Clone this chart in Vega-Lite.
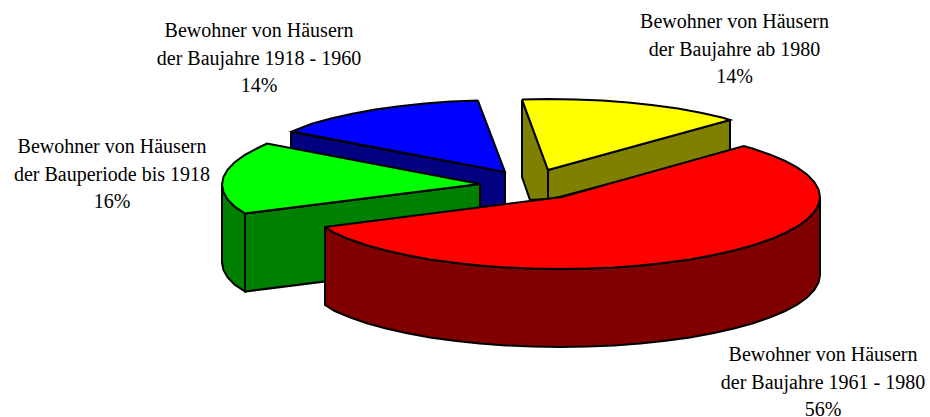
{"$schema":"https://vega.github.io/schema/vega-lite/v6.json","autosize":{"type":"none"},"padding":0,"width":930,"height":417,"background":"white","view":{"stroke":null},"datasets":{"shapes":[
{"p":"a_yellowLeft","i":0,"x":522,"y":100},{"p":"a_yellowLeft","i":1,"x":548,"y":170},{"p":"a_yellowLeft","i":2,"x":548,"y":199},{"p":"a_yellowLeft","i":3,"x":530,"y":200},{"p":"a_yellowLeft","i":4,"x":522,"y":177},{"p":"a_yellowLeft","i":5,"x":522,"y":100},
{"p":"b_yellowRight","i":0,"x":548,"y":170},{"p":"b_yellowRight","i":1,"x":730,"y":120},{"p":"b_yellowRight","i":2,"x":730,"y":152},{"p":"b_yellowRight","i":3,"x":548,"y":200},{"p":"b_yellowRight","i":4,"x":548,"y":170},
{"p":"c_yellowTop","i":0,"x":522,"y":99.5},{"p":"c_yellowTop","i":1,"x":548,"y":99},{"p":"c_yellowTop","i":2,"x":575.2,"y":99.4},{"p":"c_yellowTop","i":3,"x":602.1,"y":100.6},{"p":"c_yellowTop","i":4,"x":628.3,"y":102.5},{"p":"c_yellowTop","i":5,"x":653.7,"y":105.2},{"p":"c_yellowTop","i":6,"x":678,"y":108.6},{"p":"c_yellowTop","i":7,"x":700.8,"y":112.8},{"p":"c_yellowTop","i":8,"x":722,"y":117.5},{"p":"c_yellowTop","i":9,"x":730,"y":120},{"p":"c_yellowTop","i":10,"x":548,"y":170},{"p":"c_yellowTop","i":11,"x":522,"y":99.5},
{"p":"d_blueSide","i":0,"x":291,"y":132},{"p":"d_blueSide","i":1,"x":505,"y":172},{"p":"d_blueSide","i":2,"x":505,"y":206},{"p":"d_blueSide","i":3,"x":480,"y":212},{"p":"d_blueSide","i":4,"x":291,"y":160},{"p":"d_blueSide","i":5,"x":291,"y":132},
{"p":"e_blueTop","i":0,"x":477.8,"y":100.4},{"p":"e_blueTop","i":1,"x":505,"y":172},{"p":"e_blueTop","i":2,"x":292,"y":131.5},{"p":"e_blueTop","i":3,"x":311.8,"y":123.8},{"p":"e_blueTop","i":4,"x":331,"y":118.5},{"p":"e_blueTop","i":5,"x":352.2,"y":113.8},{"p":"e_blueTop","i":6,"x":375,"y":109.6},{"p":"e_blueTop","i":7,"x":399.3,"y":106.2},{"p":"e_blueTop","i":8,"x":424.7,"y":103.5},{"p":"e_blueTop","i":9,"x":450.9,"y":101.6},{"p":"e_blueTop","i":10,"x":477.8,"y":100.4},
{"p":"f_greenOuter","i":0,"x":222,"y":184.5},{"p":"f_greenOuter","i":1,"x":223.4,"y":192},{"p":"f_greenOuter","i":2,"x":227.7,"y":199.5},{"p":"f_greenOuter","i":3,"x":234.7,"y":206.7},{"p":"f_greenOuter","i":4,"x":245,"y":213.5},{"p":"f_greenOuter","i":5,"x":245,"y":291.5},{"p":"f_greenOuter","i":6,"x":234.7,"y":284.7},{"p":"f_greenOuter","i":7,"x":227.7,"y":277.5},{"p":"f_greenOuter","i":8,"x":223.4,"y":270},{"p":"f_greenOuter","i":9,"x":222,"y":262.5},{"p":"f_greenOuter","i":10,"x":222,"y":184.5},
{"p":"g_greenFront","i":0,"x":245,"y":213.5},{"p":"g_greenFront","i":1,"x":480,"y":184},{"p":"g_greenFront","i":2,"x":480,"y":262},{"p":"g_greenFront","i":3,"x":245,"y":291.5},{"p":"g_greenFront","i":4,"x":245,"y":213.5},
{"p":"h_greenTop","i":0,"x":480,"y":184},{"p":"h_greenTop","i":1,"x":267,"y":143.5},{"p":"h_greenTop","i":2,"x":256.8,"y":148.5},{"p":"h_greenTop","i":3,"x":244.5,"y":155.2},{"p":"h_greenTop","i":4,"x":234.7,"y":162.3},{"p":"h_greenTop","i":5,"x":227.7,"y":169.5},{"p":"h_greenTop","i":6,"x":223.4,"y":177},{"p":"h_greenTop","i":7,"x":222,"y":184.5},{"p":"h_greenTop","i":8,"x":223.4,"y":192},{"p":"h_greenTop","i":9,"x":227.7,"y":199.5},{"p":"h_greenTop","i":10,"x":234.7,"y":206.7},{"p":"h_greenTop","i":11,"x":245,"y":213.5},{"p":"h_greenTop","i":12,"x":480,"y":184},
{"p":"i_redSide","i":0,"x":820,"y":197},{"p":"i_redSide","i":1,"x":818.6,"y":204.5},{"p":"i_redSide","i":2,"x":814.3,"y":212},{"p":"i_redSide","i":3,"x":807.3,"y":219.2},{"p":"i_redSide","i":4,"x":797.5,"y":226.3},{"p":"i_redSide","i":5,"x":785.2,"y":233},{"p":"i_redSide","i":6,"x":770.3,"y":239.3},{"p":"i_redSide","i":7,"x":753.2,"y":245.2},{"p":"i_redSide","i":8,"x":734,"y":250.5},{"p":"i_redSide","i":9,"x":712.8,"y":255.2},{"p":"i_redSide","i":10,"x":690,"y":259.4},{"p":"i_redSide","i":11,"x":665.7,"y":262.8},{"p":"i_redSide","i":12,"x":640.3,"y":265.5},{"p":"i_redSide","i":13,"x":614.1,"y":267.4},{"p":"i_redSide","i":14,"x":587.2,"y":268.6},{"p":"i_redSide","i":15,"x":560,"y":269},{"p":"i_redSide","i":16,"x":532.8,"y":268.6},{"p":"i_redSide","i":17,"x":505.9,"y":267.4},{"p":"i_redSide","i":18,"x":479.7,"y":265.5},{"p":"i_redSide","i":19,"x":454.3,"y":262.8},{"p":"i_redSide","i":20,"x":430,"y":259.4},{"p":"i_redSide","i":21,"x":407.2,"y":255.2},{"p":"i_redSide","i":22,"x":386,"y":250.5},{"p":"i_redSide","i":23,"x":366.8,"y":245.2},{"p":"i_redSide","i":24,"x":349.7,"y":239.3},{"p":"i_redSide","i":25,"x":334.8,"y":233},{"p":"i_redSide","i":26,"x":325,"y":227},{"p":"i_redSide","i":27,"x":325,"y":305},{"p":"i_redSide","i":28,"x":334.8,"y":311},{"p":"i_redSide","i":29,"x":349.7,"y":317.3},{"p":"i_redSide","i":30,"x":366.8,"y":323.2},{"p":"i_redSide","i":31,"x":386,"y":328.5},{"p":"i_redSide","i":32,"x":407.2,"y":333.2},{"p":"i_redSide","i":33,"x":430,"y":337.4},{"p":"i_redSide","i":34,"x":454.3,"y":340.8},{"p":"i_redSide","i":35,"x":479.7,"y":343.5},{"p":"i_redSide","i":36,"x":505.9,"y":345.4},{"p":"i_redSide","i":37,"x":532.8,"y":346.6},{"p":"i_redSide","i":38,"x":560,"y":347},{"p":"i_redSide","i":39,"x":587.2,"y":346.6},{"p":"i_redSide","i":40,"x":614.1,"y":345.4},{"p":"i_redSide","i":41,"x":640.3,"y":343.5},{"p":"i_redSide","i":42,"x":665.7,"y":340.8},{"p":"i_redSide","i":43,"x":690,"y":337.4},{"p":"i_redSide","i":44,"x":712.8,"y":333.2},{"p":"i_redSide","i":45,"x":734,"y":328.5},{"p":"i_redSide","i":46,"x":753.2,"y":323.2},{"p":"i_redSide","i":47,"x":770.3,"y":317.3},{"p":"i_redSide","i":48,"x":785.2,"y":311},{"p":"i_redSide","i":49,"x":797.5,"y":304.3},{"p":"i_redSide","i":50,"x":807.3,"y":297.2},{"p":"i_redSide","i":51,"x":814.3,"y":290},{"p":"i_redSide","i":52,"x":818.6,"y":282.5},{"p":"i_redSide","i":53,"x":820,"y":275},{"p":"i_redSide","i":54,"x":820,"y":197},
{"p":"j_redTop","i":0,"x":325,"y":227},{"p":"j_redTop","i":1,"x":562,"y":197},{"p":"j_redTop","i":2,"x":743.8,"y":146.1},{"p":"j_redTop","i":3,"x":753.2,"y":148.8},{"p":"j_redTop","i":4,"x":770.3,"y":154.7},{"p":"j_redTop","i":5,"x":785.2,"y":161},{"p":"j_redTop","i":6,"x":797.5,"y":167.7},{"p":"j_redTop","i":7,"x":807.3,"y":174.8},{"p":"j_redTop","i":8,"x":814.3,"y":182},{"p":"j_redTop","i":9,"x":818.6,"y":189.5},{"p":"j_redTop","i":10,"x":820,"y":197},{"p":"j_redTop","i":11,"x":818.6,"y":204.5},{"p":"j_redTop","i":12,"x":814.3,"y":212},{"p":"j_redTop","i":13,"x":807.3,"y":219.2},{"p":"j_redTop","i":14,"x":797.5,"y":226.3},{"p":"j_redTop","i":15,"x":785.2,"y":233},{"p":"j_redTop","i":16,"x":770.3,"y":239.3},{"p":"j_redTop","i":17,"x":753.2,"y":245.2},{"p":"j_redTop","i":18,"x":734,"y":250.5},{"p":"j_redTop","i":19,"x":712.8,"y":255.2},{"p":"j_redTop","i":20,"x":690,"y":259.4},{"p":"j_redTop","i":21,"x":665.7,"y":262.8},{"p":"j_redTop","i":22,"x":640.3,"y":265.5},{"p":"j_redTop","i":23,"x":614.1,"y":267.4},{"p":"j_redTop","i":24,"x":587.2,"y":268.6},{"p":"j_redTop","i":25,"x":560,"y":269},{"p":"j_redTop","i":26,"x":532.8,"y":268.6},{"p":"j_redTop","i":27,"x":505.9,"y":267.4},{"p":"j_redTop","i":28,"x":479.7,"y":265.5},{"p":"j_redTop","i":29,"x":454.3,"y":262.8},{"p":"j_redTop","i":30,"x":430,"y":259.4},{"p":"j_redTop","i":31,"x":407.2,"y":255.2},{"p":"j_redTop","i":32,"x":386,"y":250.5},{"p":"j_redTop","i":33,"x":366.8,"y":245.2},{"p":"j_redTop","i":34,"x":349.7,"y":239.3},{"p":"j_redTop","i":35,"x":334.8,"y":233},{"p":"j_redTop","i":36,"x":325,"y":227}
],"labels":[
{"label":"Bewohner von Häusern\nder Baujahre ab 1980\n14%","x":734.5,"y":22},
{"label":"Bewohner von Häusern\nder Baujahre 1918 - 1960\n14%","x":259,"y":31},
{"label":"Bewohner von Häusern\nder Bauperiode bis 1918\n16%","x":112,"y":147},
{"label":"Bewohner von Häusern\nder Baujahre 1961 - 1980\n56%","x":823,"y":355}
]},
"layer":[
{"data":{"name":"shapes"},"mark":{"type":"line","stroke":"black","strokeWidth":2,"strokeJoin":"miter","interpolate":"linear","clip":false},
"encoding":{"x":{"field":"x","type":"quantitative","scale":{"domain":[0,930]},"axis":null},"y":{"field":"y","type":"quantitative","scale":{"domain":[417,0]},"axis":null},"order":{"field":"i","type":"quantitative"},"detail":{"field":"p"},
"fill":{"field":"p","type":"nominal","legend":null,"scale":{"domain":["a_yellowLeft","b_yellowRight","c_yellowTop","d_blueSide","e_blueTop","f_greenOuter","g_greenFront","h_greenTop","i_redSide","j_redTop"],"range":["#808000","#808000","#ffff00","#000080","#0000ff","#008000","#008000","#00ff00","#800000","#ff0000"]}}}},
{"data":{"name":"labels"},"mark":{"type":"text","font":"Liberation Serif","fontSize":20,"lineHeight":27.5,"lineBreak":"\n","align":"center","baseline":"middle","color":"black"},
"encoding":{"x":{"field":"x","type":"quantitative","scale":{"domain":[0,930]},"axis":null},"y":{"field":"y","type":"quantitative","scale":{"domain":[417,0]},"axis":null},"text":{"field":"label"}}}
]}
